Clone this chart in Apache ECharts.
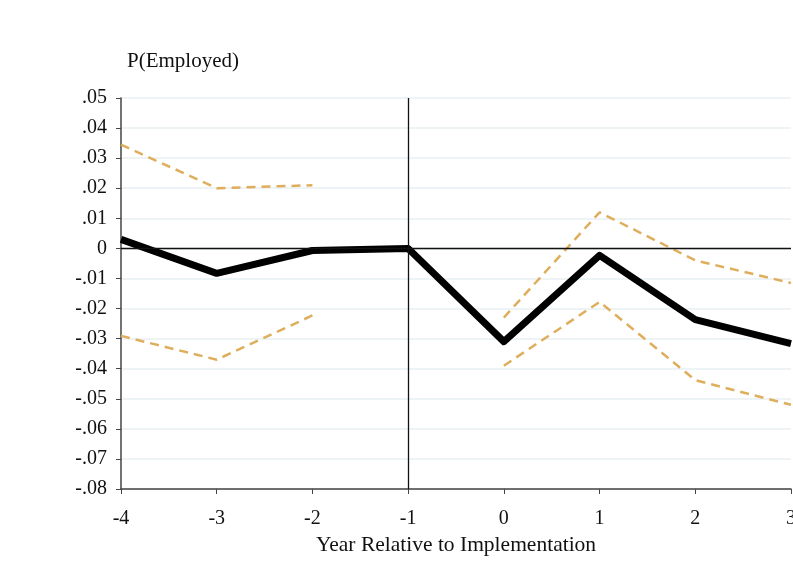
<!DOCTYPE html>
<html>
<head>
<meta charset="utf-8">
<script src="https://cdn.jsdelivr.net/npm/echarts@6/dist/echarts.min.js"></script>
<style>
html, body { margin: 0; padding: 0; background: #fff; }
#chart { width: 793px; height: 584px; }
</style>
</head>
<body>
<div id="chart"></div>
<script>
var years = [-4, -3, -2, -1, 0, 1, 2, 3];
var estimate = [0.003, -0.0083, -0.0007, 0.0, -0.031, -0.0023, -0.0237, -0.0317];
var upperCI = [0.0345, 0.020, 0.021, null, -0.023, 0.012, -0.004, -0.0115];
var lowerCI = [-0.0291, -0.037, -0.0223, null, -0.039, -0.0178, -0.0438, -0.052];

function pairs(vals) {
	return years.map(function (x, i) { return [x, vals[i] === null ? '-' : vals[i]]; });
}
// Stata style: .05, -.01, 0
function fmtY(v) {
	var r = Math.round(v * 100);
	if (r === 0) return '0';
	var s = (Math.abs(r) / 100).toFixed(2).replace(/^0/, '');
	return (r < 0 ? '-' : '') + s;
}

var serif = 'Liberation Serif';
var chart = echarts.init(document.getElementById('chart'));
var option = {
	backgroundColor: '#fff',
	animation: false,
	title: {
		text: 'P(Employed)',
		left: 122,
		top: 46,
		textStyle: { fontFamily: serif, fontWeight: 'normal', fontSize: 21, color: '#111' }
	},
	grid: { left: 121, right: 2, top: 98, bottom: 95, outerBoundsMode: 'none' },
	xAxis: {
		type: 'value',
		min: -4,
		max: 3,
		interval: 1,
		name: 'Year Relative to Implementation',
		nameLocation: 'middle',
		nameGap: 42,
		nameTextStyle: { fontFamily: serif, fontSize: 21.5, color: '#111' },
		axisLine: { show: true, onZero: false, lineStyle: { color: '#444', width: 1.5 } },
		axisTick: { show: true, length: 5, lineStyle: { color: '#444' } },
		axisLabel: { fontFamily: serif, fontSize: 20, color: '#111', margin: 20 },
		splitLine: { show: false }
	},
	yAxis: {
		type: 'value',
		min: -0.08,
		max: 0.05,
		interval: 0.01,
		axisLine: { show: true, onZero: false, lineStyle: { color: '#444', width: 1.5 } },
		axisTick: { show: true, length: 5, lineStyle: { color: '#444' } },
		axisLabel: {
			fontFamily: serif, fontSize: 20, color: '#111', margin: 14,
			formatter: function (v) { return fmtY(v); }
		},
		splitLine: { show: true, lineStyle: { color: '#e9f1f3', width: 1.5 } }
	},
	series: [
		{
			name: 'upper',
			type: 'line',
			data: pairs(upperCI),
			connectNulls: false,
			symbol: 'none',
			lineStyle: { color: '#dfae5c', width: 2.5, type: [9, 6] },
			z: 2
		},
		{
			name: 'lower',
			type: 'line',
			data: pairs(lowerCI),
			connectNulls: false,
			symbol: 'none',
			lineStyle: { color: '#dfae5c', width: 2.5, type: [9, 6] },
			z: 2
		},
		{
			name: 'estimate',
			type: 'line',
			data: pairs(estimate),
			symbol: 'none',
			lineStyle: { color: '#000', width: 7, join: 'round' },
			z: 3,
			markLine: {
				silent: true,
				symbol: 'none',
				label: { show: false },
				lineStyle: { color: '#111', width: 1.3, type: 'solid' },
				data: [{ yAxis: 0 }, { xAxis: -1 }]
			}
		}
	]
};
chart.setOption(option);
</script>
</body>
</html>
